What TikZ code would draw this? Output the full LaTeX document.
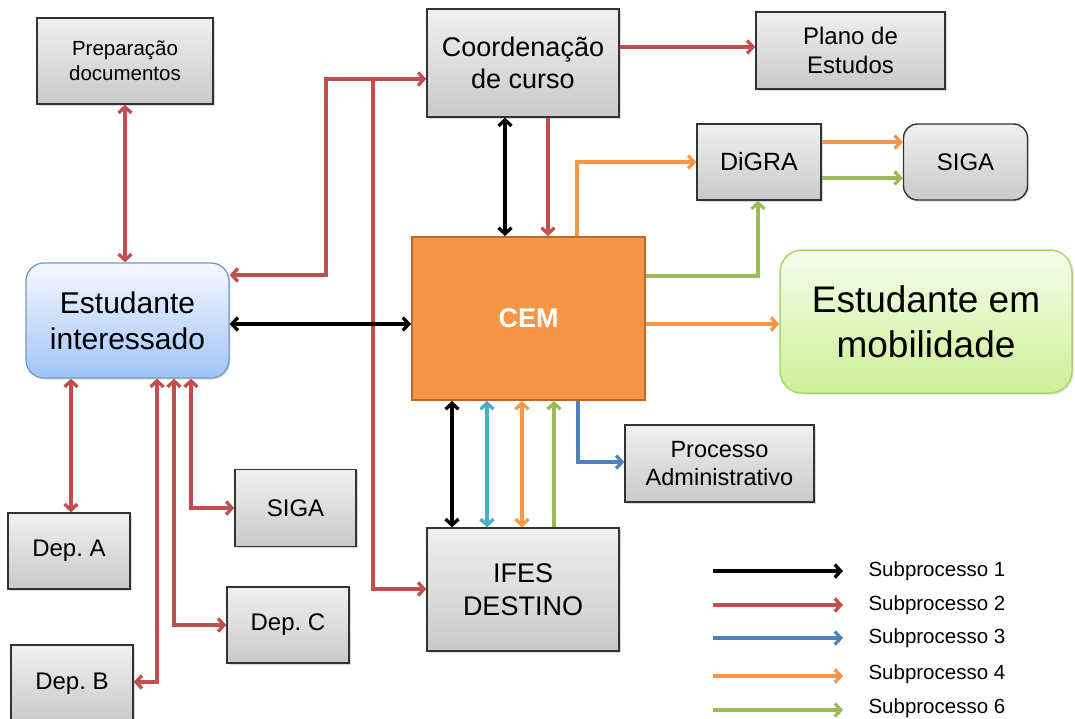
\documentclass[tikz,border=0pt]{standalone}
\usepackage{fontspec}
\setmainfont{Liberation Sans}
\usetikzlibrary{arrows.meta,shadows}
\definecolor{cred}{HTML}{C0504D}
\definecolor{cblue}{HTML}{4F81BD}
\definecolor{cteal}{HTML}{4BACC6}
\definecolor{corange}{HTML}{F79646}
\definecolor{cgreen}{HTML}{9BBB59}
\definecolor{cemborder}{HTML}{B8692C}
\newcommand\fsz[2]{\fontsize{#1}{#2}\selectfont}
\begin{document}
\begin{tikzpicture}[x=1pt,y=-1pt,
  >={Straight Barb[length=6pt,width=13pt]},
  box/.style={draw=black!80, line width=1.4pt, top color=gray!12, bottom color=gray!42,
    align=center, inner sep=0pt,
    drop shadow={opacity=0.3,shadow xshift=1.5pt,shadow yshift=-1.5pt}},
  con/.style={line width=3.3pt},
  leg/.style={anchor=west, font=\fsz{20.5}{24}}
]
\useasboundingbox (0,0) rectangle (1075,718);

% nodes
\node[box, minimum width=176pt, minimum height=86pt, font=\fsz{20.5}{25}] (prep) at (125,61) {Preparação\\documentos};
\node[box, minimum width=192pt, minimum height=108pt, font=\fsz{27}{32}] (coord) at (523,63) {Coordenação\\de curso};
\node[box, minimum width=189pt, minimum height=77pt, font=\fsz{24}{29}] (plano) at (850.5,50.5) {Plano de\\Estudos};
\node[box, minimum width=124pt, minimum height=76pt, font=\fsz{25}{29}] (digra) at (759,162) {DiGRA};
\node[box, rounded corners=14pt, minimum width=124pt, minimum height=76pt, font=\fsz{24}{29}] (sigatop) at (965.5,162) {SIGA};
\node[draw=cblue!80, line width=1.3pt, top color=blue!3!white, bottom color={rgb,255:red,160;green,196;blue,248},
  rounded corners=18pt, minimum width=203pt, minimum height=115pt, align=center, inner sep=0pt,
  font=\fsz{30}{36},
  drop shadow={opacity=0.25,shadow xshift=1.5pt,shadow yshift=-1.5pt}] (est) at (127.5,320.5) {Estudante\\interessado};
\node[draw=cemborder, line width=2pt, fill=corange, minimum width=233pt, minimum height=163pt,
  font=\fsz{27}{30}\bfseries, text=white] (cem) at (528.5,318.5) {CEM};
\node[draw={rgb,255:red,170;green,215;blue,110}, line width=1.5pt, top color={rgb,255:red,246;green,252;blue,236},
  bottom color={rgb,255:red,206;green,240;blue,150}, rounded corners=22pt,
  minimum width=292pt, minimum height=143pt, align=center, inner sep=0pt, font=\fsz{37}{45},
  drop shadow={opacity=0.25,shadow xshift=1.5pt,shadow yshift=-1.5pt}] (mob) at (926,321.5) {Estudante em\\mobilidade};
\node[box, minimum width=189pt, minimum height=77pt, font=\fsz{23.5}{28}] (proc) at (719.5,463.5) {Processo\\Administrativo};
\node[box, minimum width=121pt, minimum height=77pt, font=\fsz{24}{29}] (sigaleft) at (295.5,508) {SIGA};
\node[box, minimum width=122pt, minimum height=76pt, font=\fsz{24}{29}] (depA) at (69,551) {Dep.\ A};
\node[box, minimum width=122pt, minimum height=76pt, font=\fsz{24}{29}] (depC) at (288,625) {Dep.\ C};
\node[box, minimum width=122pt, minimum height=78pt, font=\fsz{24}{29}] (depB) at (72,684) {Dep.\ B};
\node[box, minimum width=192pt, minimum height=123pt, font=\fsz{27}{33}] (ifes) at (523,589.5) {IFES\\DESTINO};

% helper coordinates
\coordinate (r1) at (326,79);
\coordinate (r2) at (326,275);
\coordinate (r3) at (373,79);
\coordinate (r4) at (373,589);
\coordinate (yp) at (0,47);
\coordinate (xb) at (505,0);
\coordinate (xr) at (548,0);
\coordinate (o1) at (577,162);
\coordinate (g1) at (758,276);
\coordinate (ym) at (0,324);
\coordinate (yo) at (0,142);
\coordinate (yg) at (0,178);
\coordinate (x1) at (452,0);
\coordinate (x2) at (487,0);
\coordinate (x3) at (522,0);
\coordinate (x4) at (554,0);
\coordinate (b1) at (578,462);
\coordinate (d1) at (71,0);
\coordinate (d2) at (157,682);
\coordinate (d3) at (174,625);
\coordinate (d4) at (191,508);

% red connectors
\draw[con, cred, <->] (prep.south) -- (prep.south |- est.north);
\draw[con, cred, <->] (coord.west |- r1) -- (r1) -- (r2) -- (est.east |- r2);
\draw[con, cred, ->] (r3) -- (r4) -- (ifes.west |- r4);
\draw[con, cred, ->] (coord.east |- yp) -- (plano.west |- yp);
\draw[con, cred, ->] (coord.south -| xr) -- (cem.north -| xr);
\draw[con, cred, <->] (est.south -| d1) -- (depA.north -| d1);
\draw[con, cred, <->] (est.south -| d2) -- (d2) -- (depB.east |- d2);
\draw[con, cred, <->] (est.south -| d3) -- (d3) -- (depC.west |- d3);
\draw[con, cred, <->] (est.south -| d4) -- (d4) -- (sigaleft.west |- d4);

% black
\draw[con, black, <->] (coord.south -| xb) -- (cem.north -| xb);
\draw[con, black, <->] (est.east |- ym) -- (cem.west |- ym);
\draw[con, black, <->] (cem.south -| x1) -- (ifes.north -| x1);

% other subprocesses
\draw[con, cteal, <->] (cem.south -| x2) -- (ifes.north -| x2);
\draw[con, corange, <->] (cem.south -| x3) -- (ifes.north -| x3);
\draw[con, cgreen, ->] (ifes.north -| x4) -- (cem.south -| x4);
\draw[con, cblue, ->] (cem.south -| b1) -- (b1) -- (proc.west |- b1);
\draw[con, corange, ->] (cem.north -| o1) -- (o1) -- (digra.west |- o1);
\draw[con, corange, ->] (digra.east |- yo) -- (sigatop.west |- yo);
\draw[con, cgreen, ->] (digra.east |- yg) -- (sigatop.west |- yg);
\draw[con, cgreen, ->] (cem.east |- g1) -- (g1) -- (digra.south -| g1);
\draw[con, corange, ->] (cem.east |- ym) -- (mob.west |- ym);

% legend
\coordinate (l1a) at (713,571); \coordinate (l1b) at (843,571);
\coordinate (l2a) at (713,605); \coordinate (l2b) at (843,605);
\coordinate (l3a) at (713,638); \coordinate (l3b) at (843,638);
\coordinate (l4a) at (713,676); \coordinate (l4b) at (843,676);
\coordinate (l5a) at (713,710); \coordinate (l5b) at (843,710);
\draw[con, black, ->] (l1a) -- (l1b);
\draw[con, cred, ->] (l2a) -- (l2b);
\draw[con, cblue, ->] (l3a) -- (l3b);
\draw[con, corange, ->] (l4a) -- (l4b);
\draw[con, cgreen, ->] (l5a) -- (l5b);
\node[leg] (t1) at (865,571) {Subprocesso 1};
\node[leg] (t2) at (865,605) {Subprocesso 2};
\node[leg] (t3) at (865,638) {Subprocesso 3};
\node[leg] (t4) at (865,674) {Subprocesso 4};
\node[leg] (t5) at (865,708) {Subprocesso 6};
\end{tikzpicture}
\end{document}
